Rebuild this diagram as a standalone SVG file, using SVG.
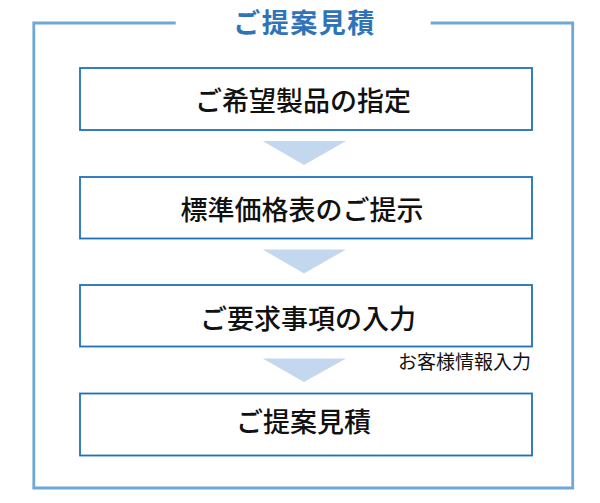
<svg xmlns="http://www.w3.org/2000/svg" width="600" height="503" viewBox="0 0 600 503">
<style>
.frame{fill:none;stroke:#6ea8d8;stroke-width:2.8}
.box{fill:#ffffff;stroke:#1f72b8;stroke-width:1.8}
.label{font-family:"Noto Sans CJK JP","Noto Sans CJK SC",sans-serif;font-size:27px;font-weight:500;fill:#111111;text-anchor:middle}
.title{font-family:"Noto Sans CJK JP","Noto Sans CJK SC",sans-serif;font-size:27px;font-weight:bold;fill:#2f74b9;text-anchor:middle;letter-spacing:1.5px}
.note{font-family:"Noto Sans CJK JP","Noto Sans CJK SC",sans-serif;font-size:19px;fill:#111111;text-anchor:end}
.arrow{fill:#c3d8ef}
</style>
<rect width="600" height="503" fill="#ffffff"/>
<g id="frame">
<path class="frame" d="M175.7,23 H33.8 V488 H572.7 V23 H430.7"/>
<text class="title" x="304.5" y="32.5">ご提案見積</text>
</g>
<g id="connectors">
<polygon class="arrow" points="262.7,141 346,141 304,165"/>
<polygon class="arrow" points="262.7,249.5 346,249.5 304,273.5"/>
<polygon class="arrow" points="262.7,358.5 346,358.5 304,382"/>
</g>
<g id="node1">
<rect class="box" x="80" y="68" width="452" height="62"/>
<text class="label" x="303" y="111">ご希望製品の指定</text>
</g>
<g id="node2">
<rect class="box" x="80" y="177" width="452" height="61.5"/>
<text class="label" x="302" y="220">標準価格表のご提示</text>
</g>
<g id="node3">
<rect class="box" x="80" y="285" width="452" height="61.5"/>
<text class="label" x="308" y="328.5">ご要求事項の入力</text>
</g>
<g id="node3-note">
<text class="note" x="531" y="369">お客様情報入力</text>
</g>
<g id="node4">
<rect class="box" x="80" y="393.5" width="452" height="62"/>
<text class="label" x="303.5" y="432">ご提案見積</text>
</g>
</svg>
